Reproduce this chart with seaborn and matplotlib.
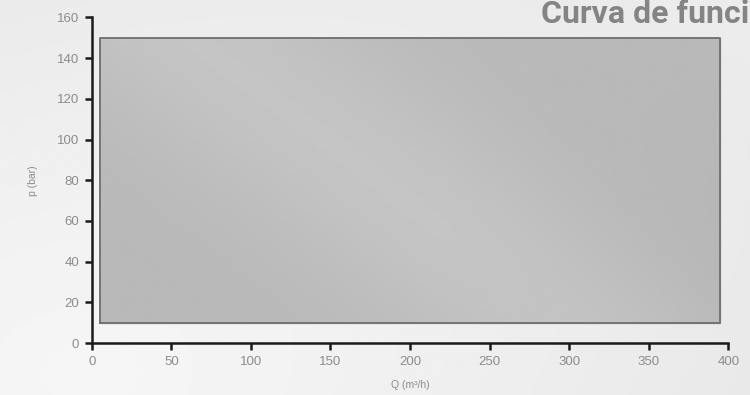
import numpy as np
import matplotlib
matplotlib.use("Agg")
import matplotlib.pyplot as plt
import seaborn as sns

# ---- data ----
q_range = [5, 395]          # Q (m3/h) operating envelope
p_low = [10, 10]            # p (bar) lower limit
p_high = [150, 150]         # p (bar) upper limit
x_ticks = [0, 50, 100, 150, 200, 250, 300, 350, 400]
y_ticks = [0, 20, 40, 60, 80, 100, 120, 140, 160]
title = "Curva de funci"
x_label = "Q (m³/h)"
y_label = "p (bar)"

sns.set_theme(style="white")
plt.rcParams['font.family'] = ['Liberation Sans', 'DejaVu Sans']

fig = plt.figure(figsize=(7.5, 3.95), dpi=100)

# background gradient
bg = fig.add_axes([0, 0, 1, 1])
yy, xx = np.mgrid[0:1:200j, 0:1:400j]
g = 0.905 + 0.06 * np.clip(1 - np.hypot(xx - 0.12, (yy - 0.05) * 0.8), 0, 1) + 0.02 * xx * yy
bg.imshow(g, cmap="gray", vmin=0, vmax=1, aspect="auto", extent=[0, 1, 0, 1], origin="lower")
bg.set_axis_off()

ax = fig.add_axes([0.1223, 0.1316, 0.8487, 0.8241])
ax.patch.set_alpha(0)

# gradient fill of envelope
poly = ax.fill_between(q_range, p_low, p_high, color="#b6b6b6", zorder=1)
gy, gx = np.mgrid[0:1:100j, 0:1:200j]
gg = 0.725 + 0.045 * np.exp(-((gx - 0.45) + (gy - 0.5) * 0.6) ** 2 / 0.08) - 0.035 * np.clip(gx - 0.55, 0, 1) * (1 - gy)
im = ax.imshow(gg, cmap="gray", vmin=0, vmax=1, aspect="auto",
               extent=[q_range[0], q_range[1], p_low[0], p_high[0]], origin="lower", zorder=2)
im.set_clip_path(poly.get_paths()[0], transform=ax.transData)

# outline
ox = [q_range[0], q_range[1], q_range[1], q_range[0], q_range[0]]
oy = [p_low[0], p_low[1], p_high[1], p_high[0], p_low[0]]
sns.lineplot(x=ox, y=oy, sort=False, estimator=None, color="#6e6e6e", lw=1.3, ax=ax, zorder=3)

ax.set_xlim(0, 400)
ax.set_ylim(0, 160)
ax.set_xticks(x_ticks)
ax.set_yticks(y_ticks)
sns.despine(ax=ax)
for s in ["left", "bottom"]:
    ax.spines[s].set_color("#1a1a1a")
    ax.spines[s].set_linewidth(1.8)
ax.tick_params(axis="both", direction="out", length=5, width=1.8, color="#1a1a1a",
               labelcolor="#8c8c8c", labelsize=9.5, left=True, bottom=True, pad=4)
ax.set_xlabel(x_label, fontsize=7.5, color="#8c8c8c", labelpad=9)
ax.set_ylabel(y_label, fontsize=7.5, color="#8c8c8c", labelpad=14)

fig.text(749 / 750, 1 - 14 / 395, title, fontsize=23, fontweight="bold",
         family=["Roboto", "DejaVu Sans"], color="#848484", ha="right", va="center")

fig.savefig("out.png", dpi=100)
